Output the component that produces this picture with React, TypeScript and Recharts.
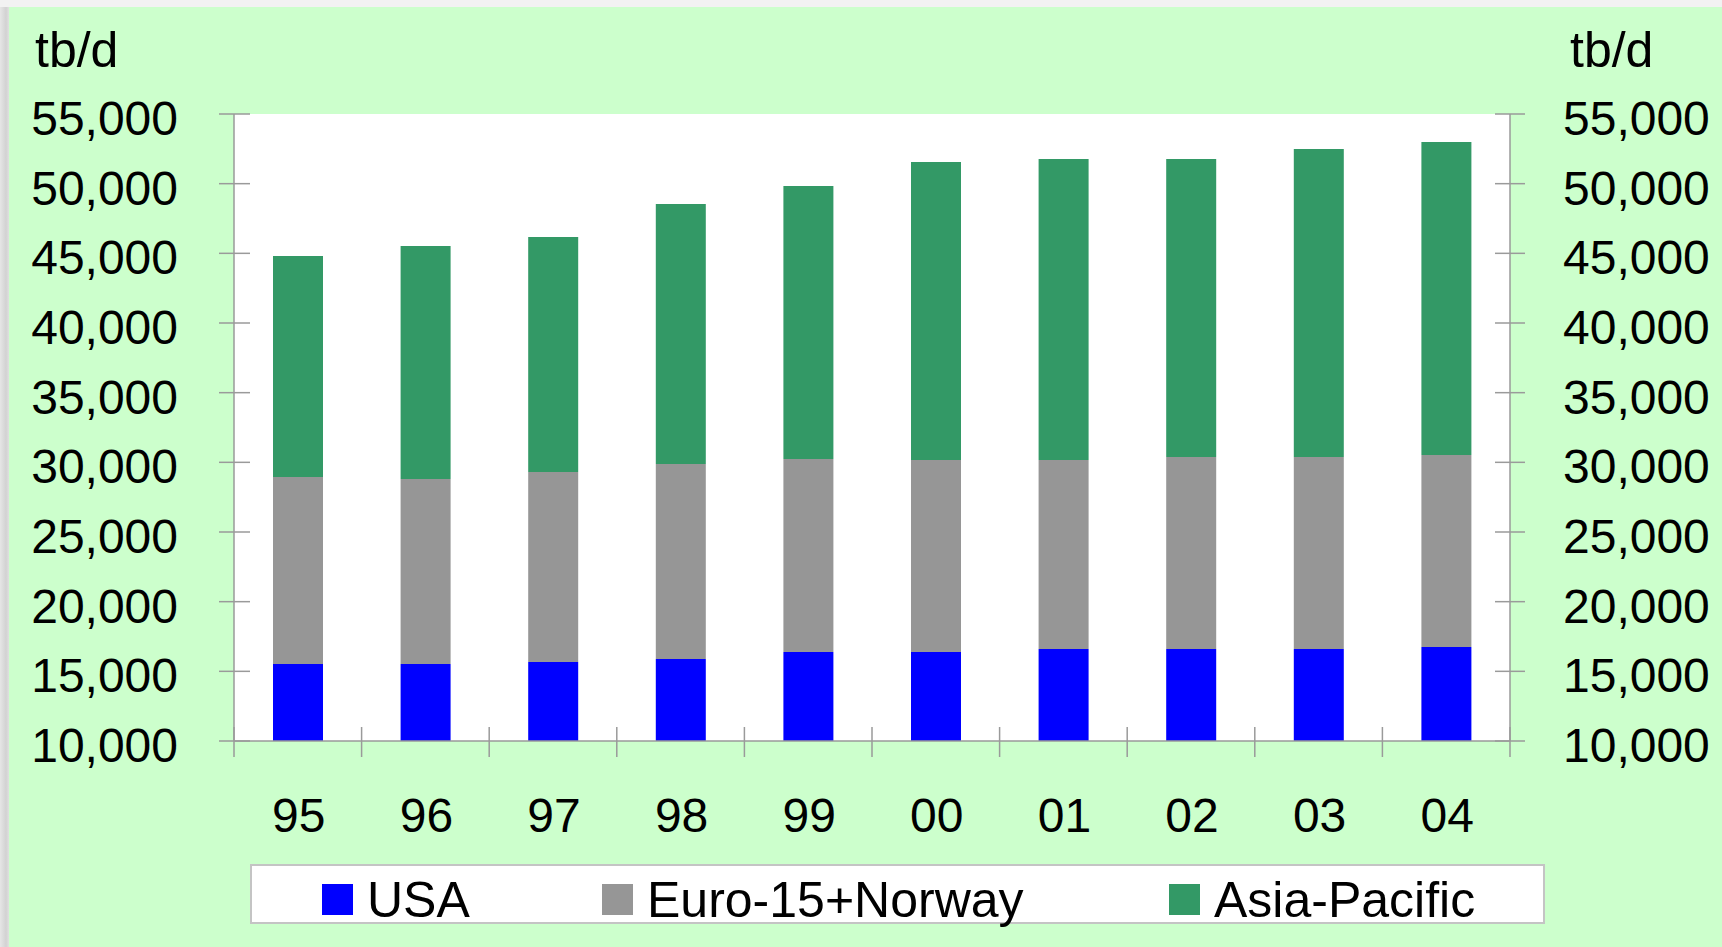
import React from 'react';
import { BarChart, Bar, XAxis, YAxis, CartesianGrid } from 'recharts';

const years = ['95', '96', '97', '98', '99', '00', '01', '02', '03', '04'];
const usa = [15530, 15530, 15670, 15890, 16390, 16390, 16600, 16600, 16600, 16750];
const euroNorway = [13420, 13270, 13640, 13990, 13850, 13780, 13570, 13780, 13780, 13780];
const asiaPacific = [15860, 16730, 16860, 18660, 19590, 21390, 21600, 21390, 22110, 22460];
const yTicks = [10000, 15000, 20000, 25000, 30000, 35000, 40000, 45000, 50000, 55000];
const seriesKeys = ['usa', 'euro', 'asia'];
const seriesNames = ['USA', 'Euro-15+Norway', 'Asia-Pacific'];
const seriesColors = ['#0000FF', '#969696', '#339966'];
const unitLabel = 'tb/d';

const data = years.map((y, i) => ({ year: y, usa: usa[i], euro: euroNorway[i], asia: asiaPacific[i] }));

const FONT = '"Liberation Sans", Arial, sans-serif';
const AXIS = '#9a9a9a';
const fmt = (v: number) => v.toLocaleString('en-US');

const LeftTick = (props: any) => {
  const { x, y, payload } = props;
  return (
    <g>
      <line x1={x - 15} x2={x + 16} y1={y} y2={y} stroke={AXIS} strokeWidth={1.5} />
      <text x={x - 56} y={y} dy={21} textAnchor="end" fontSize={48} fill="#000" fontFamily={FONT}>
        {fmt(payload.value)}
      </text>
    </g>
  );
};

const RightTick = (props: any) => {
  const { x, y, payload } = props;
  return (
    <g>
      <line x1={x - 15} x2={x + 15} y1={y} y2={y} stroke={AXIS} strokeWidth={1.5} />
      <text x={x + 53} y={y} dy={21} textAnchor="start" fontSize={48} fill="#000" fontFamily={FONT}>
        {fmt(payload.value)}
      </text>
    </g>
  );
};

const HALF_BAND = 63.8;
const XTick = (props: any) => {
  const { x, y, payload, index } = props;
  const last = index === years.length - 1;
  return (
    <g>
      <line x1={x - HALF_BAND} x2={x - HALF_BAND} y1={y - 14} y2={y + 16} stroke={AXIS} strokeWidth={1.5} />
      {last && (
        <line x1={x + HALF_BAND} x2={x + HALF_BAND} y1={y - 14} y2={y + 16} stroke={AXIS} strokeWidth={1.5} />
      )}
      <text x={x + 1} y={y} dy={91} textAnchor="middle" fontSize={48} fill="#000" fontFamily={FONT}>
        {payload.value}
      </text>
    </g>
  );
};

const legendLefts = [70, 350, 917];

export default function App() {
  return (
    <div
      style={{
        position: 'absolute',
        left: 0,
        top: 0,
        width: 1722,
        height: 947,
        overflow: 'hidden',
        background: 'linear-gradient(to right, #e6e6e6 0px, #d2d2d2 6px, #e0e0e0 9px, #f2f2f2 12px)',
        fontFamily: FONT,
      }}
    >
      <div style={{ position: 'absolute', left: 0, top: 0, width: 1722, height: 7, background: '#f2f2f2' }} />
      <div style={{ position: 'absolute', left: 9, top: 7, width: 1713, height: 940, background: '#CCFFCC' }} />
      <div style={{ position: 'absolute', left: 0, top: 0 }}>
        <BarChart
          width={1722}
          height={947}
          data={data}
          margin={{ top: 114, right: 0, bottom: 0, left: 0 }}
          barSize={50}
        >
          <CartesianGrid horizontal={false} vertical={false} fill="#FFFFFF" fillOpacity={1} stroke="none" />
          <XAxis
            dataKey="year"
            height={206}
            axisLine={{ stroke: AXIS, strokeWidth: 1.5 }}
            tickLine={false}
            tickSize={0}
            tickMargin={0}
            tick={<XTick />}
            interval={0}
          />
          <YAxis
            yAxisId="left"
            orientation="left"
            width={234}
            domain={[10000, 55000]}
            ticks={yTicks}
            allowDataOverflow
            axisLine={{ stroke: AXIS, strokeWidth: 1.5 }}
            tickLine={false}
            tickSize={0}
            tickMargin={0}
            tick={<LeftTick />}
            interval={0}
          />
          <YAxis
            yAxisId="right"
            orientation="right"
            width={212}
            domain={[10000, 55000]}
            ticks={yTicks}
            allowDataOverflow
            axisLine={{ stroke: AXIS, strokeWidth: 1.5 }}
            tickLine={false}
            tickSize={0}
            tickMargin={0}
            tick={<RightTick />}
            interval={0}
          />
          {seriesKeys.map((k, i) => (
            <Bar
              key={k}
              yAxisId="left"
              dataKey={k}
              name={seriesNames[i]}
              stackId="s"
              fill={seriesColors[i]}
              isAnimationActive={false}
            />
          ))}
        </BarChart>
      </div>
      <div style={{ position: 'absolute', left: 35, top: 25, fontSize: 50, lineHeight: '50px', color: '#000' }}>
        {unitLabel}
      </div>
      <div style={{ position: 'absolute', left: 1570, top: 25, fontSize: 50, lineHeight: '50px', color: '#000' }}>
        {unitLabel}
      </div>
      <div
        style={{
          position: 'absolute',
          left: 250,
          top: 864,
          width: 1295,
          height: 60,
          boxSizing: 'border-box',
          border: '2px solid #c4c4c4',
          background: '#FFFFFF',
        }}
      >
        {seriesNames.map((n, i) => (
          <div key={n} style={{ position: 'absolute', left: legendLefts[i], top: 0, height: 56 }}>
            <div
              style={{
                position: 'absolute',
                left: 0,
                top: 18,
                width: 31,
                height: 31,
                background: seriesColors[i],
              }}
            />
            <div
              style={{
                position: 'absolute',
                left: 45,
                top: 9,
                fontSize: 50,
                lineHeight: '50px',
                whiteSpace: 'nowrap',
                color: '#000',
              }}
            >
              {n}
            </div>
          </div>
        ))}
      </div>
    </div>
  );
}
